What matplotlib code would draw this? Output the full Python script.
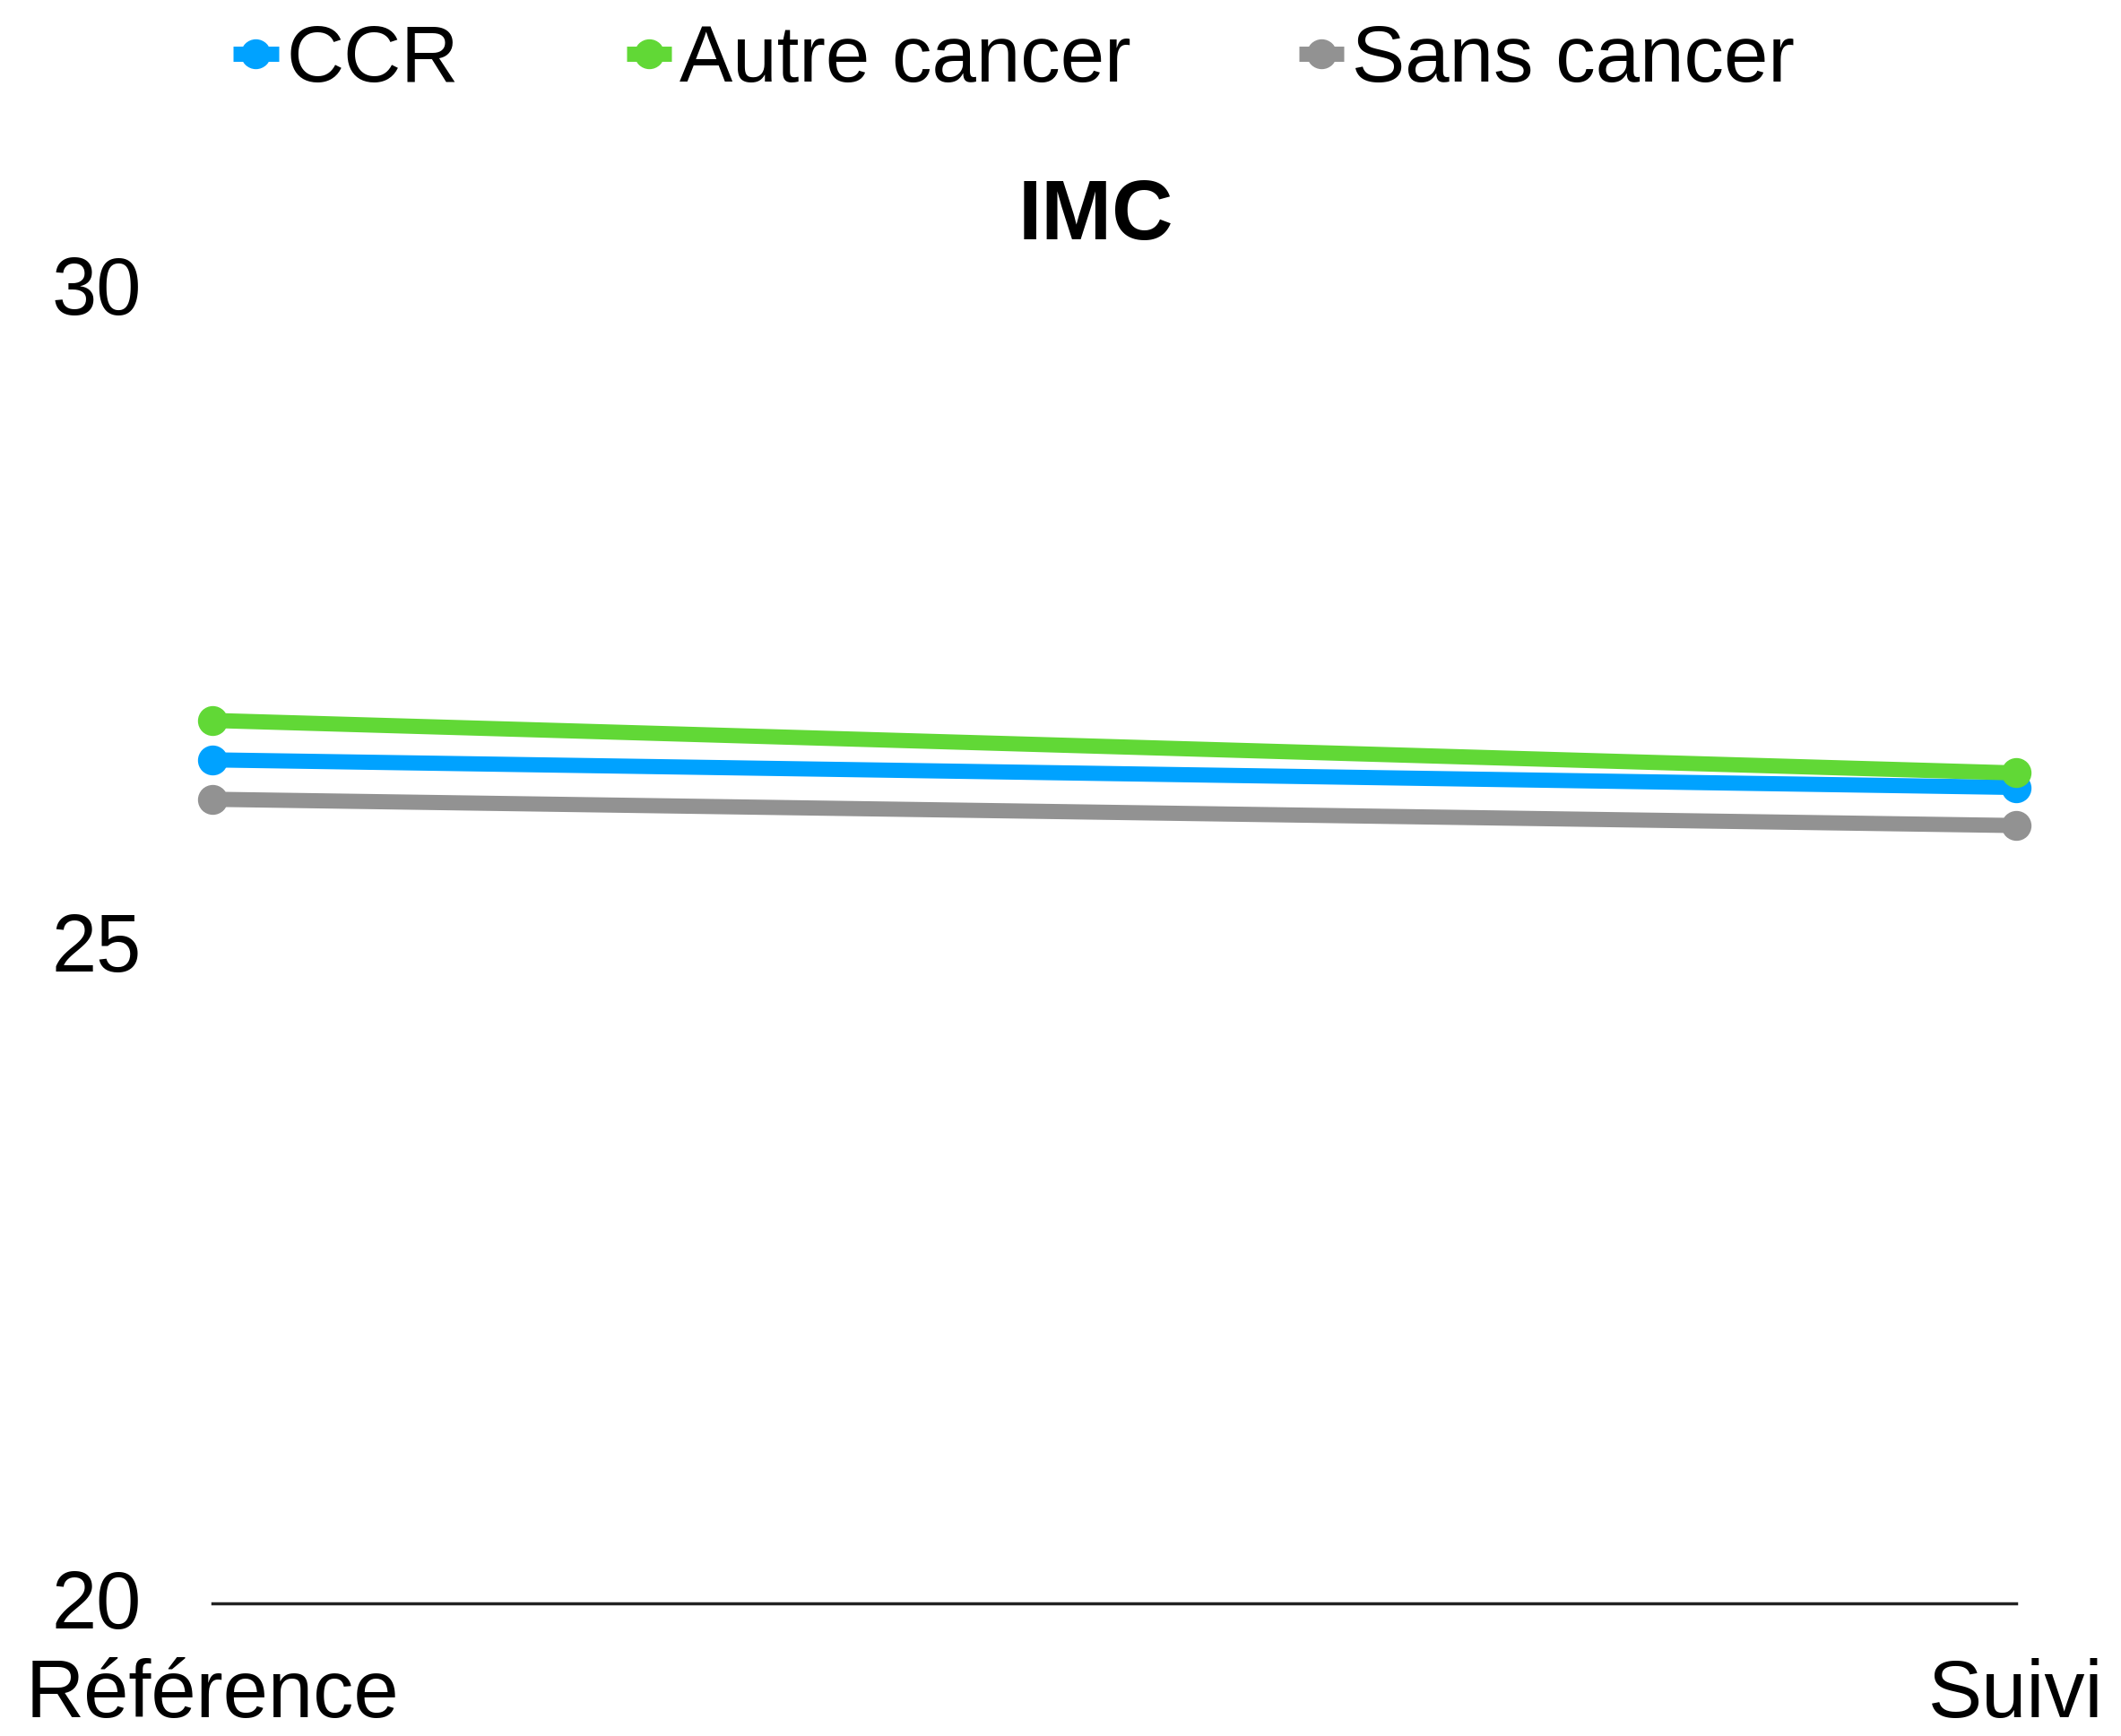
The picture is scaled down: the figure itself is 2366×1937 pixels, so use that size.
import matplotlib
matplotlib.use('Agg')
import matplotlib.pyplot as plt
import matplotlib.transforms as mtransforms

plt.rcParams['font.family'] = ['Liberation Sans', 'DejaVu Sans']

# Data
periods = ['Référence', 'Suivi']
series_names = ['CCR', 'Autre cancer', 'Sans cancer']
ccr = [26.42, 26.21]
autre_cancer = [26.72, 26.32]
sans_cancer = [26.12, 25.92]
colors = ['#00A2FF', '#61D836', '#929292']

W, H = 2366, 1937
fig = plt.figure(figsize=(W / 100, H / 100), dpi=100)
ax = fig.add_axes([237 / W, 1 - 1789 / H, (2249 - 237) / W, (1789 - 323) / H])

x = list(range(len(periods)))
for values, name, color in zip([ccr, autre_cancer, sans_cancer], series_names, colors):
    ax.plot(x, values, color=color, linewidth=12.2, marker='o', markersize=23,
            label=name, clip_on=False, solid_capstyle='butt')

ax.set_xlim(0, 1)
ax.set_ylim(20, 30)
ax.set_yticks([20, 25, 30])
ax.set_xticks(x)
ax.set_xticklabels(periods, fontsize=65)
ax.tick_params(axis='y', labelsize=65, length=0, pad=57)
ax.tick_params(axis='x', length=0, pad=44)

# nudge y labels up a little
offset = mtransforms.ScaledTranslation(0, 5 / 100, fig.dpi_scale_trans)
for lbl in ax.get_yticklabels():
    lbl.set_transform(lbl.get_transform() + offset)

for side in ['top', 'right', 'left']:
    ax.spines[side].set_visible(False)
ax.spines['bottom'].set_linewidth(2.5)
ax.spines['bottom'].set_color('#222222')

# Title
fig.text(1222 / W, 1 - 267 / H, 'IMC', fontsize=68, fontweight='bold',
         ha='center', va='baseline')

# Legend
handles, labels = ax.get_legend_handles_labels()
fig.legend(handles, labels, loc='center', bbox_to_anchor=(1131 / W, 1 - 68 / H),
           ncol=3, frameon=False, fontsize=64, handlelength=0.57,
           handletextpad=0.1, columnspacing=2.1, borderpad=0, borderaxespad=0)

fig.savefig('out.png', dpi=100)
